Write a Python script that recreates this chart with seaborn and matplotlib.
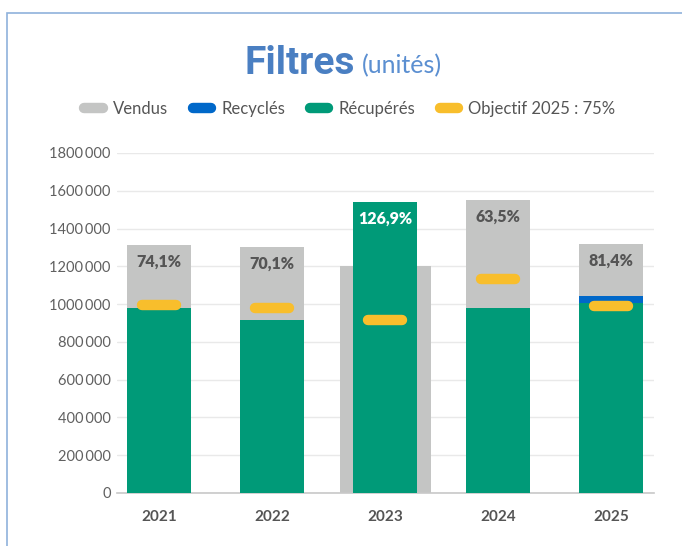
import matplotlib
matplotlib.use("Agg")
import matplotlib.pyplot as plt
import seaborn as sns
import pandas as pd
from matplotlib.lines import Line2D
from matplotlib.patches import Rectangle

years = ["2021", "2022", "2023", "2024", "2025"]
vendus = [1315000, 1302000, 1203000, 1550000, 1318000]
recuperes = [981000, 916000, 1538000, 981000, 1007000]
recycles = [0, 0, 0, 0, 36000]
objectif = [997000, 978000, 914000, 1131000, 991000]
taux = ["74,1%", "70,1%", "126,9%", "63,5%", "81,4%"]
yticks = [0, 200000, 400000, 600000, 800000, 1000000, 1200000, 1400000, 1600000, 1800000]

C_GRAY = "#c4c5c4"
C_BLUE = "#0068c9"
C_GREEN = "#009a78"
C_YELLOW = "#f8be2c"
C_TEXT = "#555555"

sns.set_theme(style="white")
plt.rcParams["font.family"] = ["Lato", "DejaVu Sans"]

df = pd.DataFrame({"year": years, "vendus": vendus, "recuperes": recuperes,
                   "recycles": recycles, "objectif": objectif})
df["total"] = df["recuperes"] + df["recycles"]

fig = plt.figure(figsize=(6.82, 5.46), dpi=100)
ax = fig.add_axes([117 / 682, 53 / 546, 537 / 682, 340 / 546])

sns.barplot(data=df, x="year", y="vendus", color=C_GRAY, width=0.566,
            saturation=1, ax=ax, zorder=2, linewidth=0)
# wider grey bar for the year where recovered exceeds sold
for i, p in enumerate(ax.patches):
    if df["recuperes"][i] > df["vendus"][i]:
        c = p.get_x() + p.get_width() / 2
        p.set_width(0.805)
        p.set_x(c - 0.805 / 2)
sns.barplot(data=df, x="year", y="total", color=C_BLUE, width=0.566,
            saturation=1, ax=ax, zorder=3, linewidth=0)
sns.barplot(data=df, x="year", y="recuperes", color=C_GREEN, width=0.566,
            saturation=1, ax=ax, zorder=4, linewidth=0)

xs = list(range(len(years)))
ax.hlines(df["objectif"], [x - 0.148 for x in xs], [x + 0.148 for x in xs],
          colors=C_YELLOW, linewidth=7.5, capstyle="round", zorder=5)

for i in xs:
    top = max(vendus[i], recuperes[i] + recycles[i])
    col = "white" if recuperes[i] > vendus[i] else C_TEXT
    ax.annotate(taux[i], (i, top), xytext=(0, -12), textcoords="offset points",
                ha="center", va="center", fontsize=11.5, fontweight="heavy",
                color=col, zorder=6)

ax.set_xlim(-0.372, 4.38)
ax.set_ylim(0, 1800000)
ax.set_yticks(yticks)
ax.set_yticklabels([f"{v // 1000}\u2009{v % 1000:03d}" if v >= 1000 else str(v)
                    for v in yticks])
ax.set_xlabel("")
ax.set_ylabel("")
ax.grid(axis="y", color="#e9e9e9", linewidth=1, zorder=0)
ax.set_axisbelow(True)
for s in ["top", "right", "left"]:
    ax.spines[s].set_visible(False)
ax.spines["bottom"].set_color("#c8c8c8")
ax.spines["bottom"].set_linewidth(1.2)
ax.tick_params(axis="y", labelsize=10.5, labelcolor="#606060", length=0, pad=4.5)
ax.tick_params(axis="x", labelsize=11, labelcolor=C_TEXT, length=0, pad=12)
for t in ax.get_xticklabels():
    t.set_fontweight("bold")

# title
fig.text(355 / 682, 1 - 63 / 546, "Filtres", ha="right", va="center",
         fontsize=28, fontweight="bold", color="#4a7fc2", family=["Roboto", "DejaVu Sans"])
fig.text(362 / 682, 1 - 66 / 546, "(unités)", ha="left", va="center",
         fontsize=18, color="#5b8fd1", family=["Lato", "DejaVu Sans"])

# legend
handles = [Line2D([0], [0], color=c, lw=7.5, solid_capstyle="round")
           for c in [C_GRAY, C_BLUE, C_GREEN, C_YELLOW]]
labels = ["Vendus", "Recyclés", "Récupérés", "Objectif 2025 : 75%"]
leg = fig.legend(handles, labels, loc="center", bbox_to_anchor=(350 / 682, 1 - 109 / 546),
                 ncol=4, frameon=False, fontsize=12, handlelength=1.1,
                 handletextpad=0.6, columnspacing=1.5, labelcolor=C_TEXT)

# outer frame
fig.patches.append(Rectangle((7 / 682, -0.05), 1.2, 1 - 13 / 546 + 0.05,
                             transform=fig.transFigure, fill=False,
                             edgecolor="#8fb2dc", linewidth=1.2))

fig.savefig("out.png", dpi=100)
